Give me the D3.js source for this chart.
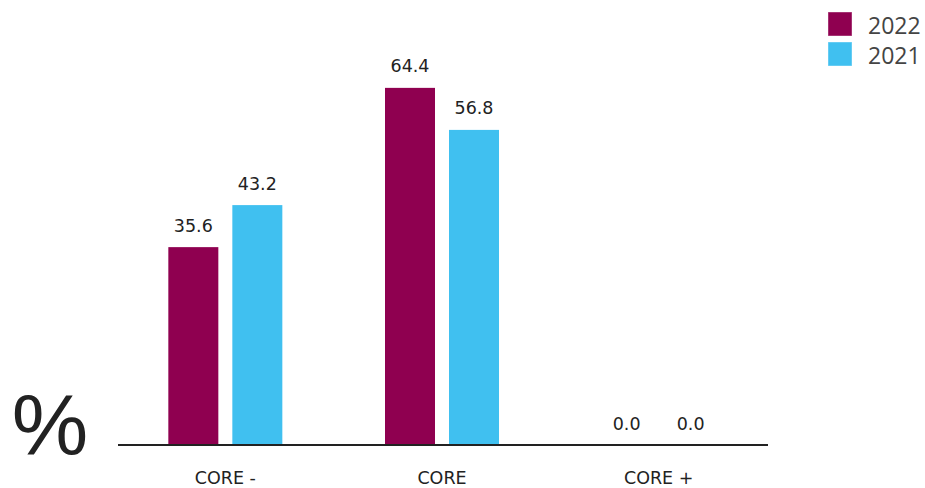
<!DOCTYPE html>
<html><head><meta charset="utf-8">
<script src="https://cdn.jsdelivr.net/npm/d3@7"></script>
<style>body{margin:0;background:#fff}svg{display:block}</style>
</head><body>
<svg id="c" width="925" height="488"></svg>
<script>
const categories = ["CORE -", "CORE", "CORE +"];
const seriesNames = ["2022", "2021"];
const values2022 = [35.6, 64.4, 0.0];
const values2021 = [43.2, 56.8, 0.0];
const colors = ["#8f0050", "#40c0f0"];

const svg = d3.select("#c");
const baseY = 444;
const x = d3.scaleBand().domain(categories).range([117, 767]).padding(0);
const bw = x.bandwidth();
const xs = d3.scaleBand().domain(seriesNames).range([(bw - 114) / 2, (bw + 114) / 2]).paddingInner(14 / 64).paddingOuter(0);
const y = d3.scaleLinear().domain([0, 70]).range([baseY, baseY - 70 * 5.53]);

const data = categories.map((c, i) => ({cat: c, vals: [values2022[i], values2021[i]]}));

const g = svg.selectAll("g.grp").data(data).join("g").attr("class", "grp")
  .attr("transform", d => `translate(${x(d.cat)},0)`);

g.selectAll("rect").data(d => d.vals.map((v, k) => ({v, k})))
  .join("rect")
  .attr("x", d => xs(seriesNames[d.k]))
  .attr("width", xs.bandwidth())
  .attr("y", d => y(d.v))
  .attr("height", d => baseY - y(d.v))
  .attr("fill", d => colors[d.k]);

g.selectAll("text.val").data(d => d.vals.map((v, k) => ({v, k})))
  .join("text").attr("class", "val")
  .attr("x", d => xs(seriesNames[d.k]) + xs.bandwidth() / 2)
  .attr("y", d => y(d.v) - (d.v === 0 ? 14 : 15.5))
  .attr("text-anchor", "middle")
  .attr("font-family", "'DejaVu Sans', Verdana, sans-serif")
  .attr("font-size", 17.5)
  .attr("fill", "#222")
  .text(d => d.v.toFixed(1));

// axis
const ax = svg.append("g").attr("transform", `translate(0,${baseY + 1})`)
  .call(d3.axisBottom(x).tickSize(0));
ax.select(".domain").attr("stroke", "#222").attr("stroke-width", 2).attr("d", "M118,0H768");
ax.selectAll("text").attr("y", 39).attr("dy", 0)
  .attr("font-family", "'DejaVu Sans', Verdana, sans-serif")
  .attr("font-size", 17.5).attr("fill", "#222");

// % label
svg.append("text").attr("x", 50).attr("y", 455).attr("text-anchor", "middle")
  .attr("font-family", "'Liberation Sans', Arial, sans-serif").attr("font-size", 86).attr("fill", "#222")
  .text("%");

// legend
const lg = svg.append("g").selectAll("g").data(seriesNames).join("g")
  .attr("transform", (d, i) => `translate(828,${12 + i * 30})`);
lg.append("rect").attr("width", 24).attr("height", 24)
  .attr("fill", (d, i) => colors[i]).attr("stroke", "#fff").attr("stroke-opacity", 0.4).attr("stroke-width", 1);
lg.append("text").attr("x", 40).attr("y", 22)
  .attr("font-family", "'Open Sans', sans-serif").attr("font-size", 23).attr("fill", "#444")
  .text(d => d);
</script>
</body></html>
